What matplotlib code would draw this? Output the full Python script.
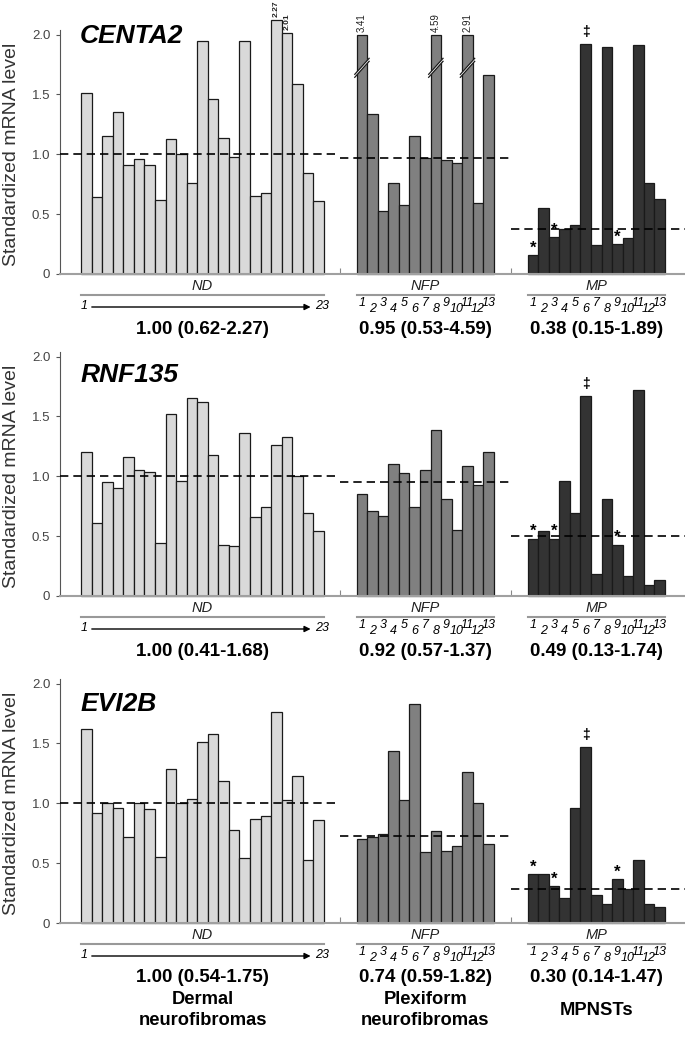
import matplotlib.pyplot as plt
from matplotlib.patches import Polygon
import numpy as np

plt.rcParams["font.family"] = ["Liberation Sans", "DejaVu Sans"]

# ---- data ----
genes = ["CENTA2", "RNF135", "EVI2B"]
groups = ["ND", "NFP", "MP"]

centa2_nd = [1.51, 0.64, 1.15, 1.35, 0.91, 0.96, 0.91, 0.62, 1.13, 1.00, 0.76, 1.95,
             1.46, 1.14, 0.98, 1.95, 0.65, 0.68, 2.27, 2.01, 1.59, 0.84, 0.61]
centa2_nfp = [3.41, 1.34, 0.53, 0.76, 0.58, 1.15, 0.97, 4.59, 0.95, 0.93, 2.91, 0.59, 1.66]
centa2_mp = [0.16, 0.55, 0.31, 0.38, 0.41, 1.92, 0.24, 1.90, 0.25, 0.30, 1.91, 0.76, 0.63]

rnf135_nd = [1.20, 0.61, 0.95, 0.90, 1.16, 1.05, 1.04, 0.44, 1.52, 0.96, 1.65, 1.62,
             1.18, 0.43, 0.42, 1.36, 0.66, 0.74, 1.26, 1.33, 1.00, 0.69, 0.54]
rnf135_nfp = [0.85, 0.71, 0.67, 1.10, 1.03, 0.74, 1.05, 1.39, 0.81, 0.55, 1.09, 0.93, 1.20]
rnf135_mp = [0.48, 0.54, 0.48, 0.96, 0.69, 1.67, 0.18, 0.81, 0.43, 0.17, 1.72, 0.09, 0.13]

evi2b_nd = [1.62, 0.92, 1.00, 0.96, 0.72, 1.00, 0.95, 0.55, 1.29, 1.00, 1.04, 1.51,
            1.58, 1.19, 0.78, 0.54, 0.87, 0.89, 1.76, 1.03, 1.23, 0.53, 0.86]
evi2b_nfp = [0.70, 0.72, 0.74, 1.44, 1.03, 1.83, 0.59, 0.77, 0.60, 0.64, 1.26, 1.00, 0.66]
evi2b_mp = [0.41, 0.41, 0.31, 0.21, 0.96, 1.47, 0.23, 0.16, 0.37, 0.28, 0.53, 0.16, 0.13]

# dashed median lines per group
centa2_median = [1.00, 0.97, 0.38]
rnf135_median = [1.00, 0.95, 0.50]
evi2b_median = [1.00, 0.73, 0.28]

centa2_summary = ["1.00 (0.62-2.27)", "0.95 (0.53-4.59)", "0.38 (0.15-1.89)"]
rnf135_summary = ["1.00 (0.41-1.68)", "0.92 (0.57-1.37)", "0.49 (0.13-1.74)"]
evi2b_summary = ["1.00 (0.54-1.75)", "0.74 (0.59-1.82)", "0.30 (0.14-1.47)"]

mp_star_bars = [1, 3, 9]
mp_dagger_bar = 6
category_labels = ["Dermal\nneurofibromas", "Plexiform\nneurofibromas", "MPNSTs"]

panels = [
    (genes[0], [centa2_nd, centa2_nfp, centa2_mp], centa2_median, centa2_summary),
    (genes[1], [rnf135_nd, rnf135_nfp, rnf135_mp], rnf135_median, rnf135_summary),
    (genes[2], [evi2b_nd, evi2b_nfp, evi2b_mp], evi2b_median, evi2b_summary),
]

# ---- layout ----
W, H = 685, 1041
PPU = 119.7                      # pixels per y unit
PX = 1 / PPU                     # one pixel in data units
baselines = [274, 596, 923]
ytops = [2.29, 2.1, 2.1]
gene_y = [1.99, 1.85, 1.83]
group_left = [2.0, 28.1, 44.3]
separators = [26.5, 42.7]
XMAX = 59.2
face = ["#d9d9d9", "#808080", "#333333"]

fig = plt.figure(figsize=(W / 100, H / 100), dpi=100)

for p, (gene, series, medians, summary) in enumerate(panels):
    b = baselines[p]
    ax = fig.add_axes([60 / W, 1 - b / H, (W - 60) / W, ytops[p] * PPU / H])
    ax.set_facecolor("none")
    ax.set_xlim(0, XMAX)
    ax.set_ylim(0, ytops[p])

    seg_edges = [0] + separators + [XMAX]
    for g, vals in enumerate(series):
        vals = np.array(vals)
        n = len(vals)
        x = group_left[g] + 0.5 + np.arange(n)
        broken = vals > 2.5
        shown = np.where(broken, 2.0, np.minimum(vals, 2.12))
        ax.bar(x, shown, width=1.0, color=face[g], edgecolor="#1a1a1a",
               linewidth=0.9, zorder=2, clip_on=False)

        # values of bars that run off the scale
        for xi, v, s, br in zip(x, vals, shown, broken):
            if v > 2.0:
                ax.text(xi, s + 3 * PX, f"{v:.2f}", rotation=90, ha="center",
                        va="bottom", fontsize=7 if br else 6,
                        fontweight="normal" if br else "bold", color="#222")
            if br:
                yb, dx, dy, t = 1.71, 0.68, 8 * PX, 3 * PX
                ax.add_patch(Polygon([(xi - dx, yb - dy), (xi + dx, yb + dy),
                                      (xi + dx, yb + dy + t), (xi - dx, yb - dy + t)],
                                     closed=True, facecolor="white",
                                     edgecolor="none", zorder=3))
                for off in (0, t):
                    ax.plot([xi - dx, xi + dx], [yb - dy + off, yb + dy + off],
                            color="#1a1a1a", lw=0.9, zorder=4)

        # dashed median line
        ax.plot([seg_edges[g], seg_edges[g + 1]], [medians[g], medians[g]],
                color="black", lw=1.2, dashes=(5, 3), zorder=5)

        # marks on MPNST bars
        if g == 2:
            for k in mp_star_bars:
                ax.text(x[k - 1], shown[k - 1] + 0.02, "*", ha="center",
                        va="baseline", fontsize=12, fontweight="bold")
            k = mp_dagger_bar
            ax.text(x[k - 1], shown[k - 1] + 0.07, "\u2021", ha="center",
                    va="baseline", fontsize=10, fontweight="bold")

        # annotation rows under the axis
        lo, hi = group_left[g], group_left[g] + n
        cx = (lo + hi) / 2
        ax.text(cx, -12 * PX, groups[g], ha="center", va="center",
                fontsize=10.5, style="italic", color="#222")
        ax.plot([lo, hi], [-21 * PX, -21 * PX], color="#999999", lw=1.5,
                clip_on=False)
        if g == 0:
            ax.text(lo + 0.3, -32 * PX, "1", ha="center", va="center",
                    fontsize=9, style="italic")
            ax.annotate("", xy=(hi - 1.0, -33 * PX), xytext=(lo + 0.75, -33 * PX),
                        arrowprops=dict(arrowstyle="-|>", color="black", lw=1,
                                        mutation_scale=9),
                        annotation_clip=False)
            ax.text(hi - 0.85, -32 * PX, str(n), ha="left", va="center",
                    fontsize=9, style="italic")
        else:
            for i, xi in enumerate(x):
                dy = -29 * PX if i % 2 == 0 else -35 * PX
                ax.text(xi, dy, str(i + 1), ha="center", va="center",
                        fontsize=9, style="italic")
        ax.text(cx, -55 * PX, summary[g], ha="center", va="center",
                fontsize=13.5, fontweight="bold")

        if p == 2:
            ax.text(cx, -0.73, category_labels[g], ha="center", va="center",
                    fontsize=13.2, fontweight="bold", linespacing=1.3)

    ax.text(1.9, gene_y[p], gene, ha="left", va="center", fontsize=19,
            fontweight="bold", style="italic")

    ax.text(-0.077, 1.0, "Standardized mRNA level", rotation=90, ha="center",
            va="center", fontsize=14, color="#333",
            transform=ax.get_yaxis_transform())

    for s in ["top", "right"]:
        ax.spines[s].set_visible(False)
    ax.spines["left"].set_bounds(0, 2.04)
    ax.spines["left"].set_color("#555555")
    ax.spines["left"].set_linewidth(0.8)
    ax.spines["bottom"].set_color("#a0a0a0")
    ax.spines["bottom"].set_linewidth(1.5)
    ax.set_yticks([0, 0.5, 1.0, 1.5, 2.0])
    ax.set_yticklabels(["0", "0.5", "1.0", "1.5", "2.0"])
    ax.tick_params(axis="y", direction="out", length=3, width=0.8,
                   color="#555555", labelcolor="#444444", labelsize=9.5, pad=4)
    ax.set_xticks(separators)
    ax.tick_params(axis="x", direction="in", length=4, width=0.8,
                   color="#888888", labelbottom=False)

fig.savefig("out.png", dpi=100)
plt.close(fig)
